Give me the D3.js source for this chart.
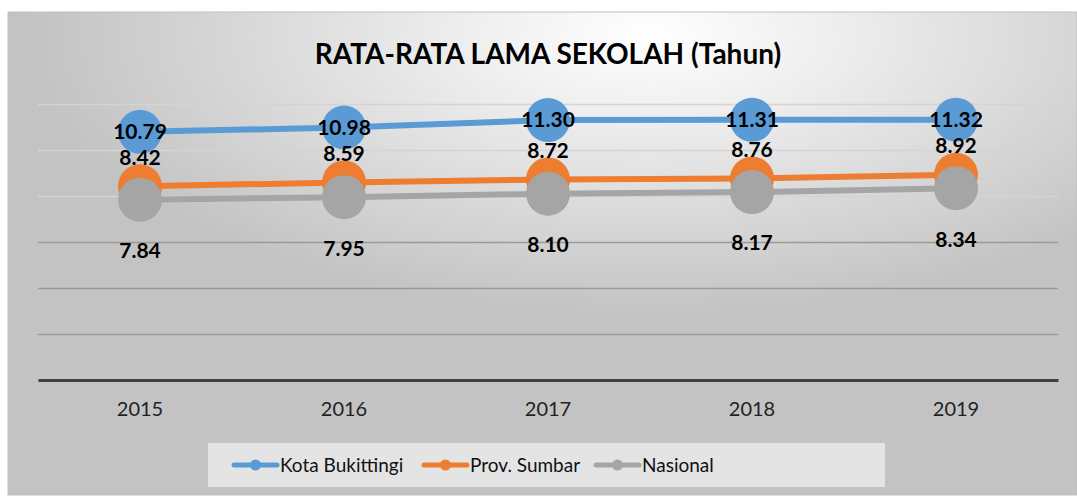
<!DOCTYPE html>
<html>
<head>
<meta charset="utf-8">
<script src="https://cdn.jsdelivr.net/npm/d3@7"></script>
<style>
  body { margin: 0; background: #ffffff; }
  text { font-family: Lato, "Open Sans", sans-serif; }
</style>
</head>
<body>
<div id="my_dataviz"></div>
<script>
// Chart data
const years = ["2015", "2016", "2017", "2018", "2019"];
const kotaBukittinggi = [10.79, 10.98, 11.30, 11.31, 11.32];
const provSumbar = [8.42, 8.59, 8.72, 8.76, 8.92];
const nasional = [7.84, 7.95, 8.10, 8.17, 8.34];
const seriesNames = ["Kota Bukittingi", "Prov. Sumbar", "Nasional"];
const yTicks = [0, 2, 4, 6, 8, 10, 12];

const W = 1077, H = 497;
const margin = { top: 104, right: 19, bottom: 117, left: 38 };
const width = W - margin.left - margin.right;
const height = H - margin.top - margin.bottom;

const colors = ["#5b9bd5", "#ed7d31", "#a5a5a5"];
const series = [kotaBukittinggi, provSumbar, nasional].map((vals, i) => ({
    name: seriesNames[i],
    color: colors[i],
    values: vals.map((v, j) => ({ year: years[j], value: v }))
}));

const root = d3.select("#my_dataviz")
    .append("svg")
    .attr("width", W)
    .attr("height", H);

// Background gradient (chart area)
const defs = root.append("defs");
const grad = defs.append("radialGradient")
    .attr("id", "bg")
    .attr("cx", "0.6").attr("cy", "0.05")
    .attr("r", "0.58");
grad.append("stop").attr("offset", "0").attr("stop-color", "#ffffff");
grad.append("stop").attr("offset", "0.35").attr("stop-color", "#ebebeb");
grad.append("stop").attr("offset", "1").attr("stop-color", "#c3c3c3");

root.append("rect")
    .attr("x", 8).attr("y", 12)
    .attr("width", W - 8).attr("height", H - 14)
    .attr("fill", "url(#bg)")
    .attr("stroke", "#bfbfbf")
    .attr("stroke-width", 1);

// Title
root.append("text")
    .attr("x", 548)
    .attr("y", 64)
    .attr("text-anchor", "middle")
    .style("font-size", "28px")
    .style("font-weight", "bold")
    .attr("fill", "#000")
    .text("RATA-RATA LAMA SEKOLAH (Tahun)");

const svg = root.append("g")
    .attr("transform", `translate(${margin.left}, ${margin.top})`);

const x = d3.scaleBand()
    .domain(years)
    .range([0, width]);

const y = d3.scaleLinear()
    .domain([0, 12])
    .range([height, 0]);

// Gridlines
svg.append("g")
    .call(d3.axisLeft(y).tickValues(yTicks.slice(1)).tickSize(-width).tickFormat(""))
    .call(g => g.select(".domain").remove())
    .selectAll(".tick line")
    .attr("stroke", d => d >= 8 ? "#d4d4d4" : "#9a9a9a")
    .attr("stroke-width", 1.5);

// X axis
const xAxis = svg.append("g")
    .attr("transform", `translate(0, ${height})`)
    .call(d3.axisBottom(x).tickSize(0).tickPadding(22));
xAxis.select(".domain")
    .attr("stroke", "#404040")
    .attr("stroke-width", 3);
xAxis.selectAll("text")
    .style("font-size", "20px")
    .attr("fill", "#222");

const line = d3.line()
    .x(d => x(d.year) + x.bandwidth() / 2)
    .y(d => y(d.value));

// Lines, draw the later series first so the blue stays on top
[...series].reverse().forEach(s => {
    svg.append("path")
        .datum(s.values)
        .attr("fill", "none")
        .attr("stroke", s.color)
        .attr("stroke-width", 6)
        .attr("d", line);
});

// Markers
series.forEach(s => {
    svg.selectAll(null)
        .data(s.values)
        .enter()
        .append("circle")
        .attr("cx", d => x(d.year) + x.bandwidth() / 2)
        .attr("cy", d => y(d.value))
        .attr("r", 22)
        .attr("fill", s.color);
});

// Data labels: blue centred, orange above, grey below
const labelOffset = [0, -29, 51];
series.forEach((s, i) => {
    svg.selectAll(null)
        .data(s.values)
        .enter()
        .append("text")
        .attr("x", d => x(d.year) + x.bandwidth() / 2)
        .attr("y", d => y(d.value) + labelOffset[i])
        .attr("dy", "0.35em")
        .attr("text-anchor", "middle")
        .style("font-size", "21px")
        .style("font-weight", "bold")
        .attr("fill", "#000")
        .text(d => d.value.toFixed(2));
});

// Legend
const legend = root.append("g");
legend.append("rect")
    .attr("x", 208).attr("y", 443)
    .attr("width", 677).attr("height", 44)
    .attr("fill", "#e4e4e4");

const legendX = [234, 424, 596];
series.forEach((s, i) => {
    const g = legend.append("g").attr("transform", `translate(${legendX[i]}, 465)`);
    g.append("line")
        .attr("x1", 0).attr("x2", 43)
        .attr("stroke", s.color)
        .attr("stroke-width", 5)
        .attr("stroke-linecap", "round");
    g.append("circle")
        .attr("cx", 21.5).attr("r", 5.5)
        .attr("fill", s.color);
    g.append("text")
        .attr("x", 46)
        .attr("dy", "0.35em")
        .style("font-size", "19px")
        .attr("fill", "#111")
        .text(s.name);
});
</script>
</body>
</html>
